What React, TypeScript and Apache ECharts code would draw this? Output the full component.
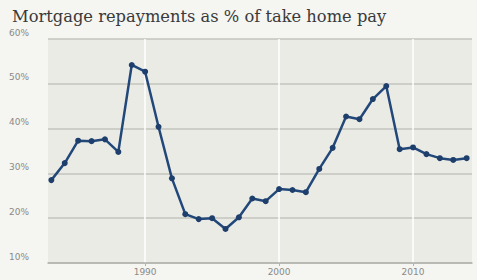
import React, { useEffect, useRef } from "react";
import * as echarts from "echarts";

const years = [
  1983, 1984, 1985, 1986, 1987, 1988, 1989, 1990, 1991, 1992, 1993, 1994, 1995, 1996, 1997, 1998,
  1999, 2000, 2001, 2002, 2003, 2004, 2005, 2006, 2007, 2008, 2009, 2010, 2011, 2012, 2013, 2014,
];
const repayments = [
  28.5, 32.3, 37.3, 37.2, 37.6, 34.8, 54.2, 52.7, 40.4, 28.9, 20.9, 19.8, 20.0, 17.6, 20.2, 24.4,
  23.8, 26.5, 26.3, 25.8, 31.0, 35.7, 42.7, 42.1, 46.6, 49.5, 35.4, 35.8, 34.3, 33.4, 33.0, 33.4,
];
const yearTicks = [1990, 2000, 2010];
const title = "Mortgage repayments as % of take home pay";

export default function App() {
  const ref = useRef<HTMLDivElement>(null);
  useEffect(() => {
    document.body.style.margin = "0";
    document.body.style.background = "#f5f5f2";
    const chart = echarts.init(ref.current!, null, { renderer: "svg" });
    chart.setOption({
      animation: false,
      backgroundColor: "#f5f5f2",
      title: {
        text: title,
        left: 7,
        top: 3,
        textStyle: {
          fontFamily: "DejaVu Serif",
          fontWeight: "normal",
          fontSize: 16.3,
          color: "#3a3a3a",
        },
      },
      grid: {
        left: 48,
        right: 5,
        top: 39,
        bottom: 17,
        show: true,
        backgroundColor: "#ebebe6",
        borderWidth: 0,
      },
      xAxis: {
        type: "value",
        min: 1982.75,
        max: 2014.4,
        axisLine: { show: true, lineStyle: { color: "#b3b3ad", width: 1.5 } },
        axisTick: { show: true, customValues: yearTicks, length: 3, lineStyle: { color: "#b3b3ad" } },
        axisLabel: {
          customValues: yearTicks,
          formatter: (v: number) => String(v),
          fontSize: 9,
          color: "#8a8a86",
          margin: 4,
          fontFamily: "DejaVu Sans",
        },
        splitLine: { show: false },
      },
      yAxis: {
        type: "value",
        min: 10,
        max: 60,
        interval: 10,
        axisLine: { show: false },
        axisTick: { show: false },
        axisLabel: {
          formatter: "{value}%",
          align: "left",
          margin: 39,
          verticalAlign: "bottom",
          padding: [0, 0, 2, 0],
          fontSize: 9,
          color: "#8a8a86",
          fontFamily: "DejaVu Sans",
        },
        splitLine: { show: true, lineStyle: { color: "#c4c4be", width: 1.5 } },
      },
      series: [
        {
          type: "line",
          z: 0,
          data: [],
          silent: true,
          markLine: {
            z: 0,
            symbol: "none",
            silent: true,
            label: { show: false },
            lineStyle: { color: "#ffffff", width: 1.5, type: "solid" },
            data: yearTicks.map((y) => ({ xAxis: y })),
          },
        },
        {
          type: "line",
          z: 3,
          data: years.map((y, i) => [y, repayments[i]]),
          symbol: "circle",
          symbolSize: 6,
          lineStyle: { color: "#22487a", width: 2.5 },
          itemStyle: { color: "#1e3f6c" },
        },
      ],
    });
    return () => chart.dispose();
  }, []);
  return <div ref={ref} style={{ width: 477, height: 280 }} />;
}
